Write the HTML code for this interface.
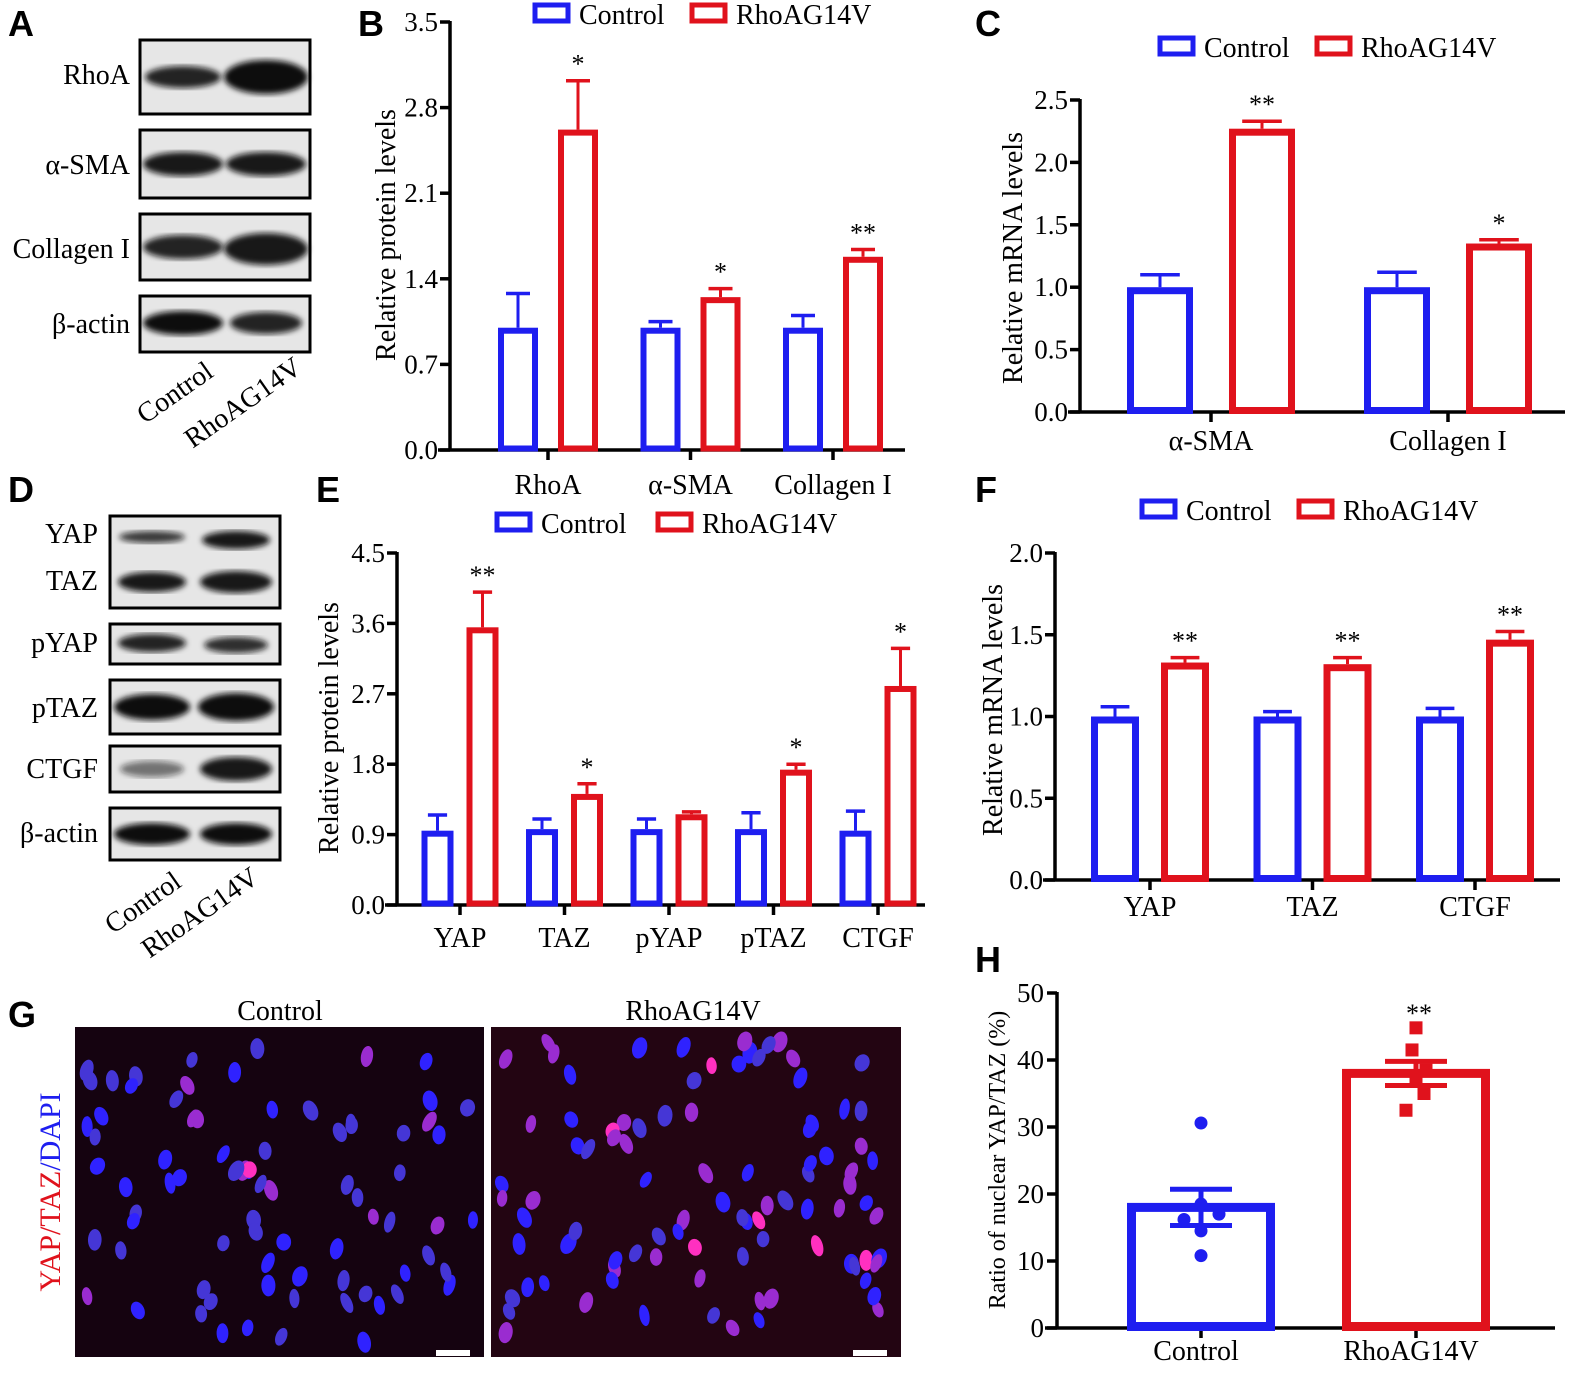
<!DOCTYPE html>
<html><head><meta charset="utf-8"><style>
html,body{margin:0;padding:0;background:#fff;width:1589px;height:1382px;overflow:hidden;}
svg{display:block;position:absolute;left:0;top:0;font-family:"Liberation Serif",serif;}
</style></head><body>
<svg id="fig" width="1589" height="1382" viewBox="0 0 1589 1382" xmlns="http://www.w3.org/2000/svg">
<defs>
<filter id="blur3"><feGaussianBlur stdDeviation="3"/></filter>
<filter id="blur1"><feGaussianBlur stdDeviation="1"/></filter>
</defs>
</svg>
<script>
// ---- Chart data ----
const catsB = ["RhoA","α-SMA","Collagen I"];
const ctrlB = [1.0,1.0,1.0];
const ctrlErrB = [1.28,1.05,1.1];
const rhoB = [2.62,1.25,1.58];
const rhoErrB = [3.02,1.32,1.64];
const starsB = ["*","*","**"];
const ticksB = ["0.0","0.7","1.4","2.1","2.8","3.5"];

const catsC = ["α-SMA","Collagen I"];
const ctrlC = [1.0,1.0];
const ctrlErrC = [1.1,1.12];
const rhoC = [2.27,1.35];
const rhoErrC = [2.33,1.38];
const starsC = ["**","*"];
const ticksC = ["0.0","0.5","1.0","1.5","2.0","2.5"];

const catsE = ["YAP","TAZ","pYAP","pTAZ","CTGF"];
const ctrlE = [0.95,0.97,0.97,0.97,0.95];
const ctrlErrE = [1.15,1.1,1.1,1.18,1.2];
const rhoE = [3.55,1.42,1.16,1.73,2.8];
const rhoErrE = [4.0,1.55,1.19,1.8,3.28];
const starsE = ["**","*","","*","*"];
const ticksE = ["0.0","0.9","1.8","2.7","3.6","4.5"];

const catsF = ["YAP","TAZ","CTGF"];
const ctrlF = [1.0,1.0,1.0];
const ctrlErrF = [1.06,1.03,1.05];
const rhoF = [1.33,1.32,1.47];
const rhoErrF = [1.36,1.36,1.52];
const starsF = ["**","**","**"];
const ticksF = ["0.0","0.5","1.0","1.5","2.0"];

const catsH = ["Control","RhoAG14V"];
const meansH = [18,38];
const semLowH = [15.3,36.2];
const semHighH = [20.7,39.8];
const pointsCtrlH = [30.6,18.5,17,16.2,14.5,10.8];
const pointsRhoH = [44.8,41.5,38.5,37,35,32.5];
const ticksH = ["0","10","20","30","40","50"];

const BLUE="#1e1ef0", RED="#e0121c";
const svg=document.getElementById('fig');
const NS="http://www.w3.org/2000/svg";
function el(tag,attrs,parent,text){const e=document.createElementNS(NS,tag);for(const k in attrs)e.setAttribute(k,attrs[k]);if(text!==undefined)e.textContent=text;(parent||svg).appendChild(e);return e;}
function txt(x,y,s,size,anchor,parent,name,fill,extra){const t=el('text',Object.assign({x:x,y:y,'font-size':size,'text-anchor':anchor||'middle',fill:fill||'#000'},extra||{}),parent,s);


return t;}

function panelLetter(x,y,s){const t=el('text',{x:x,y:y,'font-size':36,'font-weight':'bold','font-family':'Liberation Sans, sans-serif'},svg,s);

}

function legend(y,x1,x2,g){
 [[x1,BLUE,"Control"],[x2,RED,"RhoAG14V"]].forEach(([x,c,s])=>{
  const r=el('rect',{x:x,y:y-10,width:33,height:16,fill:'none',stroke:c,'stroke-width':5},g);
  
  
  txt(x+44,y+9,s,28,'start',g,'legend-label-'+s.toLowerCase());
 });
}

function barChart(o){
 const g=el('g',{},svg);
 
 
 const max=parseFloat(o.ticks[o.ticks.length-1]);
 const yS=v=>o.yBot-(v/max)*(o.yBot-o.yTop);
 const xC=i=>o.c0+i*o.step;
 const ya=el('line',{x1:o.x0,y1:o.yTop-1,x2:o.x0,y2:o.yBot+1.5,stroke:'#000','stroke-width':3.5},g);
 
 const xa=el('line',{x1:o.x0-12,y1:o.yBot,x2:o.x1,y2:o.yBot,stroke:'#000','stroke-width':3.5},g);
 
 o.ticks.forEach(t=>{const y=yS(parseFloat(t));
  el('line',{x1:o.x0-10,y1:y,x2:o.x0,y2:y,stroke:'#000','stroke-width':3.5},g);
  txt(o.x0-12,y+9,t,27,'end',g,'y-tick-label');});
 o.cats.forEach((c,i)=>{const x=xC(i);
  el('line',{x1:x,y1:o.yBot,x2:x,y2:o.yBot+10,stroke:'#000','stroke-width':3.5},g);
  txt(x,o.yBot+o.labDy,c,28,'middle',g,'x-category-label');
  [[o.ctrl,o.ctrlErr,-o.off,BLUE,'control'],[o.rho,o.rhoErr,o.off,RED,'rhoag14v']].forEach(([vals,errs,off,col,nm])=>{
   const cx=x+off,v=vals[i],top=yS(v),sw=o.sw,w=o.bw;
   const eT=yS(errs[i]);
   el('line',{x1:cx,y1:top,x2:cx,y2:eT,stroke:col,'stroke-width':3},g);
   el('line',{x1:cx-w*0.3,y1:eT,x2:cx+w*0.3,y2:eT,stroke:col,'stroke-width':3.5},g);
   const b=el('rect',{x:cx-w/2+sw/2,y:top+sw/2,width:w-sw,height:o.yBot-top-sw/2-1.5,fill:'#fff',stroke:col,'stroke-width':sw},g);
   
   
   if(nm==='rhoag14v'&&o.stars[i]) txt(cx,eT-8,o.stars[i],26,'middle',g,'significance-marker');
  });
 });
 txt(o.tx,o.ty,o.title,28,'middle',g,'y-axis-title','#000',{transform:`rotate(-90 ${o.tx} ${o.ty})`});
 legend(o.legY,o.legX1,o.legX2,g);
}

barChart({name:'chart-b',x0:450,x1:905,yTop:22,yBot:450,ticks:ticksB,cats:catsB,ctrl:ctrlB,ctrlErr:ctrlErrB,rho:rhoB,rhoErr:rhoErrB,stars:starsB,c0:548,step:142.5,off:30,bw:40,sw:6,labDy:44,title:'Relative protein levels',tx:395,ty:235,legY:15,legX1:535,legX2:692});
barChart({name:'chart-c',x0:1080,x1:1565,yTop:100,yBot:412,ticks:ticksC,cats:catsC,ctrl:ctrlC,ctrlErr:ctrlErrC,rho:rhoC,rhoErr:rhoErrC,stars:starsC,c0:1211,step:237,off:51,bw:66,sw:7,labDy:38,title:'Relative mRNA levels',tx:1022,ty:258,legY:48,legX1:1160,legX2:1317});
barChart({name:'chart-e',x0:397,x1:925,yTop:553,yBot:905,ticks:ticksE,cats:catsE,ctrl:ctrlE,ctrlErr:ctrlErrE,rho:rhoE,rhoErr:rhoErrE,stars:starsE,c0:460,step:104.5,off:22.5,bw:32,sw:6,labDy:42,title:'Relative  protein levels',tx:338,ty:728,legY:524,legX1:497,legX2:658});
barChart({name:'chart-f',x0:1055,x1:1560,yTop:553,yBot:880,ticks:ticksF,cats:catsF,ctrl:ctrlF,ctrlErr:ctrlErrF,rho:rhoF,rhoErr:rhoErrF,stars:starsF,c0:1150,step:162.5,off:35,bw:48,sw:7,labDy:36,title:'Relative  mRNA  levels',tx:1002,ty:710,legY:511,legX1:1142,legX2:1299});

// Chart H
(function(){
 const g=el('g',{},svg);
 
 const x0=1057,x1=1555,yTop=993,yBot=1328,max=50;
 const yS=v=>yBot-(v/max)*(yBot-yTop);
 const xC=i=>1201+i*215;
 el('line',{x1:x0,y1:yTop-1,x2:x0,y2:yBot+1.5,stroke:'#000','stroke-width':3.5},g);
 el('line',{x1:x0-12,y1:yBot,x2:x1,y2:yBot,stroke:'#000','stroke-width':3.5},g);
 ticksH.forEach(t=>{const y=yS(parseFloat(t));
  el('line',{x1:x0-10,y1:y,x2:x0,y2:y,stroke:'#000','stroke-width':3.5},g);
  txt(x0-13,y+9,t,27,'end',g,'y-tick-label');});
 const pts=[pointsCtrlH,pointsRhoH],cols=[BLUE,RED];
 const offsArr=[[0,0,18,-17,0,0],[0,-4,10,0,8,-10]];
 catsH.forEach((c,i)=>{const cx=xC(i),col=cols[i],w=148,sw=9,top=yS(meansH[i]);
  el('line',{x1:cx,y1:yBot,x2:cx,y2:yBot+10,stroke:'#000','stroke-width':3.5},g);
  txt(cx-5,yBot+32,c,28,'middle',g,'x-category-label');
  const b=el('rect',{x:cx-w/2+sw/2,y:top,width:w-sw,height:yBot-top-1.5,fill:'#fff',stroke:col,'stroke-width':sw},g);
  
  
  const lo=yS(semLowH[i]),hi=yS(semHighH[i]);
  el('line',{x1:cx,y1:lo,x2:cx,y2:hi,stroke:col,'stroke-width':5},g);
  el('line',{x1:cx-31,y1:lo,x2:cx+31,y2:lo,stroke:col,'stroke-width':5},g);
  el('line',{x1:cx-31,y1:hi,x2:cx+31,y2:hi,stroke:col,'stroke-width':5},g);
  pts[i].forEach((v,j)=>{const px=cx+offsArr[i][j%6],py=yS(v);
   let p;
   if(i===0)p=el('circle',{cx:px,cy:py,r:6.5,fill:col},g);
   else p=el('rect',{x:px-6.5,y:py-6.5,width:13,height:13,fill:col},g);
   
   
  });
 });
 txt(xC(1)+3,1022,'**',26,'middle',g,'significance-marker');
 const tx=1005,ty=1160;
 txt(tx,ty,'Ratio of nuclear YAP/TAZ (%)',24,'middle',g,'y-axis-title','#000',{transform:`rotate(-90 ${tx} ${ty})`});
})();

// Blots
function blot(x,y,w,h,lanes,name){
 const g=el('g',{},svg);
 
 el('rect',{x:x,y:y,width:w,height:h,fill:'#e6e6e6',stroke:'#000','stroke-width':3},g);
 lanes.forEach(([cx,cy,rx,ry,op])=>{el('ellipse',{cx:cx,cy:cy,rx:rx,ry:ry,fill:'#111','fill-opacity':op,filter:'url(#blur3)'},g);});
}
function blotLabel(x,y,s){txt(x,y,s,28,'end',svg,'blot-label');}
blot(140,40,170,74,[[183,77,38,11,0.9],[266,77,42,17,1]],'blot-rhoa');blotLabel(130,84,'RhoA');
blot(140,130,170,68,[[183,164,40,12,0.95],[266,164,40,12,0.95]],'blot-asma');blotLabel(130,174,'α-SMA');
blot(140,214,170,66,[[183,247,40,12,0.9],[266,249,42,16,0.95]],'blot-collagen');blotLabel(130,258,'Collagen I');
blot(140,296,170,56,[[183,323,40,12,1],[266,323,36,11,0.9]],'blot-bactin-a');blotLabel(130,333,'β-actin');
txt(180,400,'Control',28,'middle',svg,'lane-label-control','#000',{transform:'rotate(-35 180 400)'});
txt(248,410,'RhoAG14V',28,'middle',svg,'lane-label-rhoag14v','#000',{transform:'rotate(-35 248 410)'});

blot(110,516,170,92,[[152,537,33,6,0.8],[236,540,34,9,0.95],[152,582,34,10,0.95],[236,582,36,11,0.95]],'blot-yap-taz');
blotLabel(98,543,'YAP');blotLabel(98,590,'TAZ');
blot(110,624,170,40,[[152,643,34,9,0.9],[236,645,32,8,0.85]],'blot-pyap');blotLabel(98,652,'pYAP');
blot(110,680,170,54,[[152,707,38,13,1],[236,707,38,14,1]],'blot-ptaz');blotLabel(98,717,'pTAZ');
blot(110,746,170,46,[[152,769,32,8,0.55],[236,769,36,12,0.95]],'blot-ctgf');blotLabel(98,778,'CTGF');
blot(110,808,170,52,[[152,834,38,11,1],[236,834,36,11,1]],'blot-bactin-d');blotLabel(98,842,'β-actin');
txt(148,910,'Control',28,'middle',svg,'lane-label-control','#000',{transform:'rotate(-35 148 910)'});
txt(205,920,'RhoAG14V',28,'middle',svg,'lane-label-rhoag14v','#000',{transform:'rotate(-35 205 920)'});

// Micrographs (decorative)
let seed=12345;function rnd(){seed=(seed*1103515245+12345)%2147483648;return seed/2147483648;}
function micro(x,y,w,h,n,pinkFrac,bg,name){
 const g=el('g',{},svg);
 
 el('rect',{x:x,y:y,width:w,height:h,fill:bg},g);
 for(let i=0;i<n;i++){const cx=x+10+rnd()*(w-20),cy=y+12+rnd()*(h-24);const pk=rnd()<pinkFrac;
  const col=pk?(rnd()<0.12?'#ff30c0':'#9a2cd0'):(rnd()<0.5?'#2f22ff':'#4536d6');
  el('ellipse',{cx:cx,cy:cy,rx:5+rnd()*2.5,ry:8+rnd()*3,fill:col,transform:`rotate(${rnd()*60-30} ${cx} ${cy})`},g);}
 el('rect',{x:x+w-48,y:y+h-7,width:34,height:6,fill:'#fff'},g);
}
micro(75,1027,409,330,78,0.1,'#150310','micrograph-control');
micro(491,1027,410,330,92,0.4,'#230512','micrograph-rhoag14v');
txt(280,1020,'Control',28,'middle',svg,'micrograph-title-control');
txt(693,1020,'RhoAG14V',28,'middle',svg,'micrograph-title-rhoag14v');
(function(){const t=el('text',{x:60,y:1192,'font-size':30,'text-anchor':'middle',transform:'rotate(-90 60 1192)'},svg);

[['YAP/TAZ',RED],['/',BLUE],['DAPI',BLUE]].forEach(([s,c])=>{el('tspan',{fill:c},t,s);});})();

panelLetter(8,36,'A');panelLetter(358,36,'B');panelLetter(975,36,'C');
panelLetter(8,502,'D');panelLetter(316,502,'E');panelLetter(975,502,'F');
panelLetter(8,1027,'G');panelLetter(975,972,'H');
</script>
</body></html>
